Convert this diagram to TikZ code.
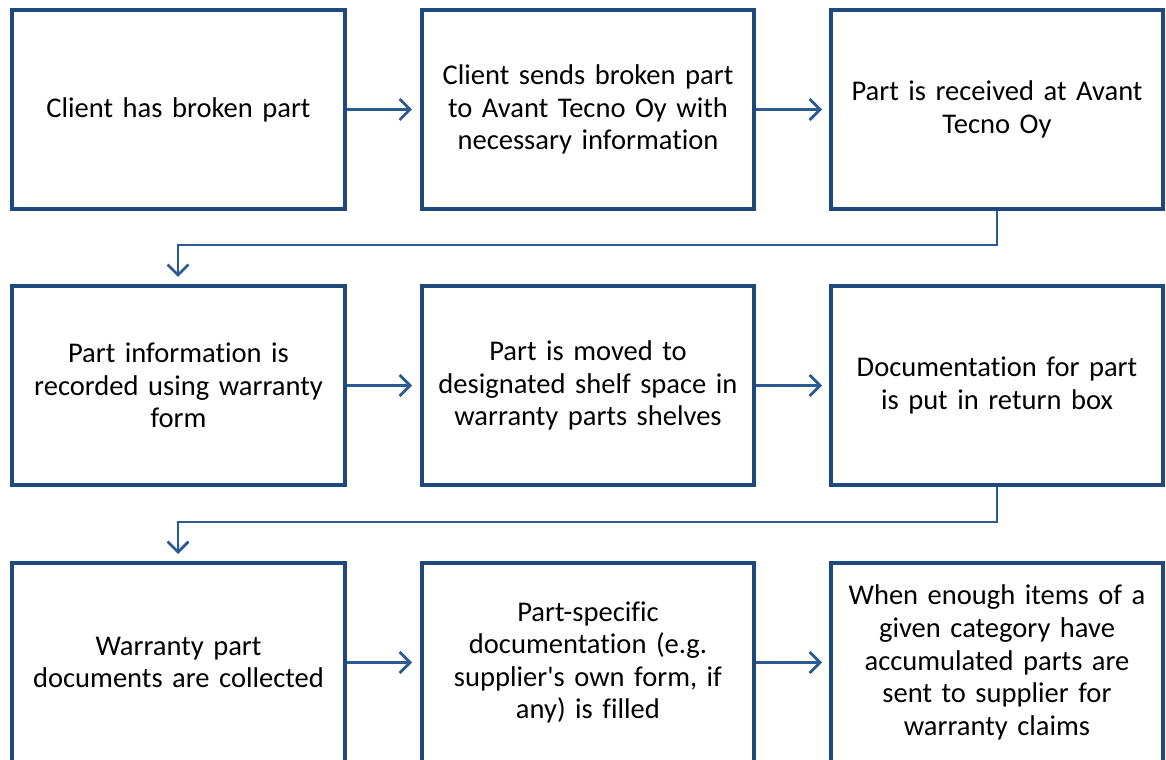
\documentclass[tikz,border=0pt]{standalone}
\usepackage{fontspec}
\setmainfont{Carlito}[Ligatures={NoCommon}]
\usetikzlibrary{arrows.meta,positioning}
\definecolor{boxblue}{HTML}{1F497D}
\definecolor{arrowblue}{HTML}{2C5A92}
\newcommand{\straightquote}{\XeTeXglyph\XeTeXcharglyph"27\relax}

\begin{document}
\begin{tikzpicture}[x=0.025cm,y=-0.025cm]
		\useasboundingbox (0,0) rectangle (1166,760);
		\clip (0,0) rectangle (1166,760);
		\begin{scope}[every node/.style={rectangle,draw=boxblue,line width=2.85pt,fill=white,
			minimum width=8.3cm,minimum height=4.97cm,text width=7.9cm,align=center,
			font=\fontsize{20.3}{23.2}\selectfont,inner sep=0pt}]
			\node (brk) at (178.5,109.5) {Client has broken part};
			\node (snd) at (588,109.5) {Client sends broken part\\to Avant Tecno Oy with\\necessary information};
			\node (rcv) at (997,109.5) {Part is received at Avant\\Tecno Oy};
			\node (rec) at (178.5,385.5) {Part information is\\recorded using warranty\\form};
			\node (shf) at (588,385.5) {Part is moved to\\designated shelf space in\\warranty parts shelves};
			\node (doc) at (997,385.5) {Documentation for part\\is put in return box};
			\node (col) at (178.5,662.5) {Warranty part\\documents are collected};
			\node (fil) at (588,662.5) {Part-specific\\documentation (e.g.\\supplier\straightquote s own form, if\\any) is filled};
			\node (sup) at (997,662.5) {When enough items of a\\given category have\\accumulated parts are\\sent to supplier for\\warranty claims};
		\end{scope}

		\begin{scope}[arrowblue,line width=1.9pt,>={Straight Barb[length=7.5pt,width=15pt]}]
			\draw[->] (brk) -- (snd.west -| 412,0);
			\draw[->] (snd) -- (rcv.west -| 822,0);
			\draw[->] (rec) -- (shf.west -| 412,0);
			\draw[->] (shf) -- (doc.west -| 822,0);
			\draw[->] (col) -- (fil.west -| 412,0);
			\draw[->] (fil) -- (sup.west -| 822,0);
			\draw[->] (rcv.south) |- (178,245) -- (178,277);
			\draw[->] (doc.south) |- (178,522) -- (178,554);
		\end{scope}
	\end{tikzpicture}
\end{document}
